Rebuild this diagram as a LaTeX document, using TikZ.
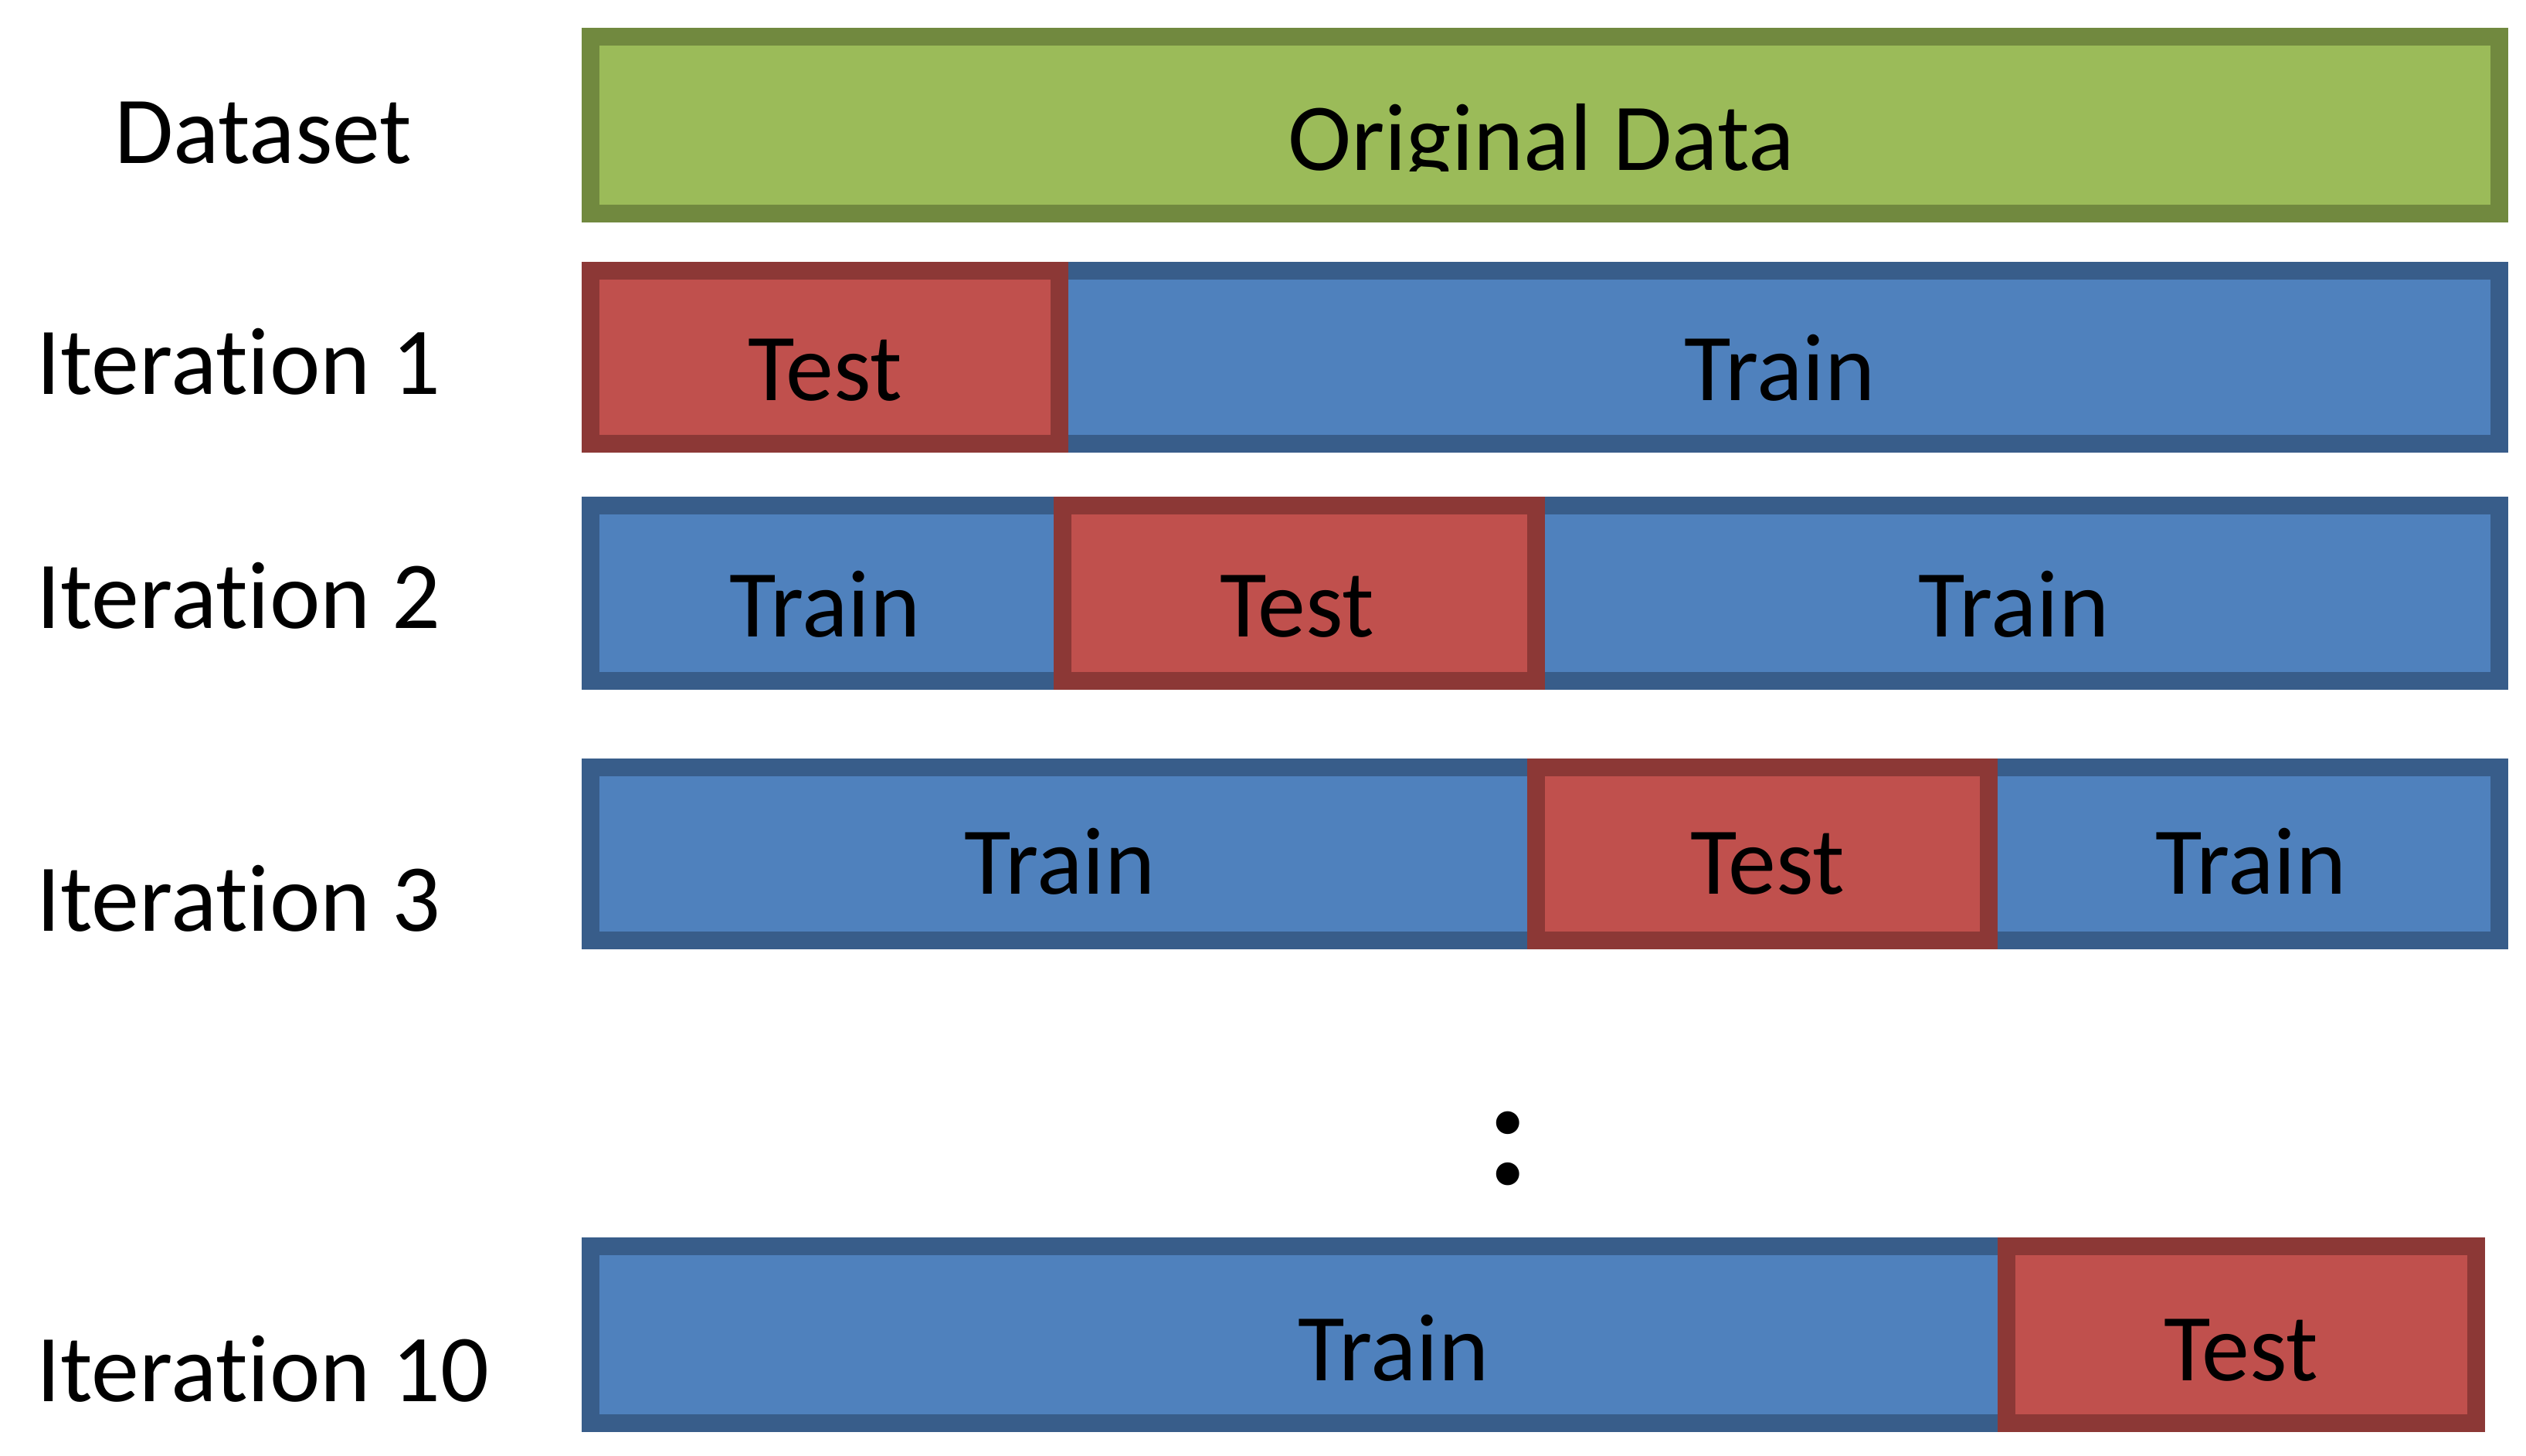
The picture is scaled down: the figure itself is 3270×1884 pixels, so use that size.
\documentclass[tikz,border=0pt]{standalone}
\usepackage{fontspec}
\setmainfont{Carlito}[Ligatures={NoCommon}]
\definecolor{grfill}{HTML}{9BBB59}
\definecolor{grline}{HTML}{71893F}
\definecolor{rdfill}{HTML}{C0504D}
\definecolor{rdline}{HTML}{8C3836}
\definecolor{blfill}{HTML}{4F81BD}
\definecolor{blline}{HTML}{385D8A}
\begin{document}
\begin{tikzpicture}[x=1pt,y=-1pt,
  greenbar/.style={fill=grfill,draw=grline,line width=23pt,line join=miter},
  bluebar/.style={fill=blfill,draw=blline,line width=23pt,line join=miter},
  redbar/.style={fill=rdfill,draw=rdline,line width=23pt,line join=miter},
  boxtext/.style={anchor=base,inner sep=0pt,font=\fontsize{124}{150}\selectfont},
  rowlabel/.style={anchor=base west,inner sep=0pt,font=\fontsize{124}{150}\selectfont}]
\useasboundingbox (0,0) rectangle (3270,1884);
\fill[white] (0,0) rectangle (3270,1884);

% labels
\node[rowlabel] (ldata) at (148,211) {Dataset};
\node[rowlabel] (lit1) at (47,510) {Iteration 1};
\node[rowlabel] (lit2) at (47,813) {Iteration 2};
\node[rowlabel] (lit3) at (47,1205) {Iteration 3};
\node[rowlabel] (lit10) at (47,1814) {Iteration 10};

% dataset
\path[greenbar] (764.5,47.5) rectangle (3235.5,276.5);
\begin{scope}
\clip (753,36) rectangle (3247,221);
\node[boxtext] (orig) at (1995,220) {Original Data};
\end{scope}

% iteration 1
\path[bluebar] (764.5,350.5) rectangle (3235.5,574.5);
\path[redbar] (764.5,350.5) rectangle (1371.5,574.5);
\node[boxtext] (r1test) at (1068,518) {Test};
\node[boxtext] (r1train) at (2304,518) {Train};

% iteration 2
\path[bluebar] (764.5,654.5) rectangle (3235.5,881.5);
\path[redbar] (1375.5,654.5) rectangle (1988.5,881.5);
\node[boxtext] (r2traina) at (1068,824) {Train};
\node[boxtext] (r2test) at (1679,824) {Test};
\node[boxtext] (r2trainb) at (2607,824) {Train};

% iteration 3
\path[bluebar] (764.5,993.5) rectangle (3235.5,1217.5);
\path[redbar] (1988.5,993.5) rectangle (2574.5,1217.5);
\node[boxtext] (r3traina) at (1372,1157) {Train};
\node[boxtext] (r3test) at (2288,1157) {Test};
\node[boxtext] (r3trainb) at (2914,1157) {Train};

% dots
\node[anchor=base,inner sep=0pt,font=\fontsize{200}{240}\selectfont\bfseries] (dots) at (1952,1533) {:};

% iteration 10
\path[bluebar] (764.5,1613.5) rectangle (3205.5,1842.5);
\path[redbar] (2597.5,1613.5) rectangle (3205.5,1842.5);
\node[boxtext] (r10train) at (1804,1787) {Train};
\node[boxtext] (r10test) at (2901,1787) {Test};
\end{tikzpicture}
\end{document}
